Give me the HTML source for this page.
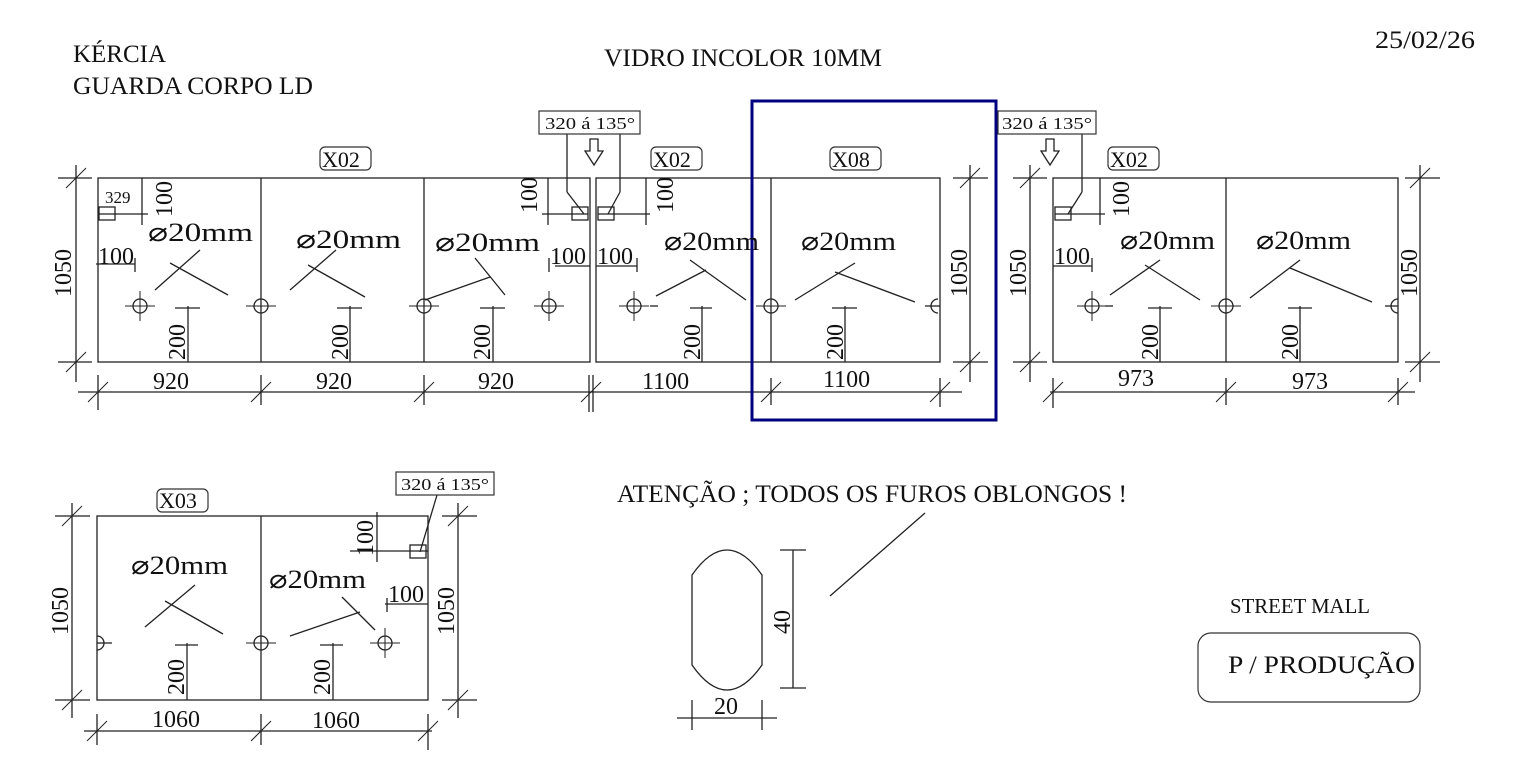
<!DOCTYPE html>
<html><head><meta charset="utf-8"><style>
html,body{margin:0;padding:0;background:#fff;}
svg{display:block;}
text{font-family:"Liberation Serif",serif;fill:#111;}
</style></head><body>
<svg width="1535" height="767" viewBox="0 0 1535 767" xmlns="http://www.w3.org/2000/svg">
<defs>
<g id="h"><circle cx="0" cy="0" r="7" fill="none" stroke="#222" stroke-width="1.3"/><line x1="-15" y1="0" x2="15" y2="0" stroke="#222"/><line x1="0" y1="-15" x2="0" y2="15" stroke="#222"/></g>
<g id="t"><line x1="-10" y1="10" x2="10" y2="-10" stroke="#222"/></g>
</defs>
<g font-size="25">
<text x="73" y="62" textLength="93" lengthAdjust="spacingAndGlyphs">KÉRCIA</text>
<text x="73" y="94" textLength="240" lengthAdjust="spacingAndGlyphs">GUARDA CORPO LD</text>
<text x="604" y="66" textLength="278" lengthAdjust="spacingAndGlyphs">VIDRO INCOLOR 10MM</text>
<text x="1375" y="48" textLength="100" lengthAdjust="spacingAndGlyphs">25/02/26</text>
<text x="617" y="502" textLength="510" lengthAdjust="spacingAndGlyphs">ATENÇÃO ; TODOS OS FUROS OBLONGOS !</text>
<text x="1230" y="613" font-size="21" textLength="140" lengthAdjust="spacingAndGlyphs">STREET MALL</text>
<text x="1228" y="673" textLength="187" lengthAdjust="spacingAndGlyphs">P / PRODUÇÃO</text>
</g>
<rect x="1198" y="633" width="222" height="69" rx="13" fill="none" stroke="#333" stroke-width="1.2"/>

<g stroke="#222" stroke-width="1.3" fill="none">
<rect x="98" y="178" width="492" height="184"/>
<line x1="261" y1="178" x2="261" y2="362"/><line x1="424" y1="178" x2="424" y2="362"/>
<rect x="596" y="178" width="344" height="184"/>
<line x1="771" y1="178" x2="771" y2="362"/>
<line x1="76" y1="165" x2="76" y2="382"/><line x1="58" y1="178" x2="92" y2="178"/><line x1="58" y1="362" x2="92" y2="362"/>
<line x1="970" y1="165" x2="970" y2="382"/><line x1="953" y1="178" x2="988" y2="178"/><line x1="953" y1="362" x2="988" y2="362"/>
<line x1="78" y1="392" x2="962" y2="392"/>
<line x1="98" y1="375" x2="98" y2="410"/><line x1="261" y1="375" x2="261" y2="405"/><line x1="424" y1="375" x2="424" y2="405"/><line x1="589" y1="375" x2="589" y2="412"/><line x1="593" y1="375" x2="593" y2="412"/><line x1="771" y1="378" x2="771" y2="405"/><line x1="940" y1="378" x2="940" y2="407"/>
<rect x="99" y="207" width="16" height="13"/><line x1="99" y1="214" x2="148" y2="214"/><line x1="142" y1="178" x2="142" y2="225"/>
<line x1="96" y1="264" x2="135" y2="264"/><line x1="135" y1="258" x2="135" y2="272"/>
<rect x="572" y="207" width="16" height="13"/><line x1="542" y1="214" x2="588" y2="214"/><line x1="548" y1="178" x2="548" y2="225"/>
<line x1="567" y1="134" x2="567" y2="192"/><line x1="567" y1="192" x2="584" y2="214"/>
<rect x="598" y="207" width="16" height="13"/><line x1="598" y1="214" x2="650" y2="214"/><line x1="646" y1="178" x2="646" y2="225"/>
<line x1="620" y1="134" x2="620" y2="192"/><line x1="620" y1="192" x2="608" y2="214"/>
<line x1="555" y1="266" x2="590" y2="266"/><line x1="549" y1="258" x2="549" y2="272"/>
<line x1="596" y1="266" x2="637" y2="266"/><line x1="637" y1="258" x2="637" y2="272"/>
<line x1="188" y1="306" x2="188" y2="362"/><line x1="175" y1="308" x2="200" y2="308"/>
<line x1="350" y1="306" x2="350" y2="362"/><line x1="337" y1="308" x2="362" y2="308"/>
<line x1="493" y1="306" x2="493" y2="362"/><line x1="480" y1="308" x2="505" y2="308"/>
<line x1="702" y1="306" x2="702" y2="362"/><line x1="690" y1="308" x2="712" y2="308"/>
<line x1="845" y1="306" x2="845" y2="362"/><line x1="832" y1="308" x2="857" y2="308"/>
<line x1="200" y1="250" x2="155" y2="290"/><line x1="170" y1="263" x2="228" y2="295"/>
<line x1="336" y1="250" x2="290" y2="290"/><line x1="308" y1="265" x2="365" y2="297"/>
<line x1="475" y1="258" x2="505" y2="295"/><line x1="425" y1="300" x2="490" y2="277"/>
<line x1="706" y1="270" x2="656" y2="296"/><line x1="690" y1="260" x2="746" y2="300"/>
<line x1="855" y1="263" x2="795" y2="300"/><line x1="835" y1="272" x2="915" y2="302"/>
<path d="M590 139 h8 v12 h5 l-9 14 l-9 -14 h5 z"/>
<path d="M1046 139 h8 v12 h5 l-9 14 l-9 -14 h5 z"/>
<rect x="1053" y="178" width="345" height="184"/>
<line x1="1226" y1="178" x2="1226" y2="362"/>
<line x1="1030" y1="165" x2="1030" y2="382"/><line x1="1013" y1="178" x2="1047" y2="178"/><line x1="1013" y1="362" x2="1047" y2="362"/>
<line x1="1420" y1="165" x2="1420" y2="382"/><line x1="1405" y1="178" x2="1440" y2="178"/><line x1="1405" y1="362" x2="1440" y2="362"/>
<line x1="1050" y1="392" x2="1415" y2="392"/><line x1="1053" y1="378" x2="1053" y2="408"/><line x1="1226" y1="378" x2="1226" y2="405"/><line x1="1398" y1="378" x2="1398" y2="405"/>
<rect x="1055" y="207" width="16" height="13"/><line x1="1055" y1="214" x2="1105" y2="214"/><line x1="1100" y1="178" x2="1100" y2="225"/>
<line x1="1082" y1="134" x2="1082" y2="192"/><line x1="1082" y1="192" x2="1068" y2="214"/>
<line x1="1053" y1="266" x2="1092" y2="266"/><line x1="1092" y1="258" x2="1092" y2="272"/>
<line x1="1160" y1="306" x2="1160" y2="362"/><line x1="1148" y1="308" x2="1172" y2="308"/>
<line x1="1300" y1="306" x2="1300" y2="362"/><line x1="1288" y1="308" x2="1312" y2="308"/>
<line x1="1160" y1="260" x2="1110" y2="295"/><line x1="1145" y1="265" x2="1200" y2="300"/>
<line x1="1300" y1="260" x2="1250" y2="298"/><line x1="1290" y1="268" x2="1372" y2="302"/>
<rect x="97" y="516" width="331" height="184"/>
<line x1="261" y1="516" x2="261" y2="700"/>
<line x1="72" y1="503" x2="72" y2="718"/><line x1="55" y1="516" x2="90" y2="516"/><line x1="55" y1="700" x2="90" y2="700"/>
<line x1="458" y1="503" x2="458" y2="718"/><line x1="442" y1="516" x2="477" y2="516"/><line x1="442" y1="700" x2="477" y2="700"/>
<line x1="84" y1="731" x2="432" y2="731"/><line x1="97" y1="714" x2="97" y2="745"/><line x1="261" y1="714" x2="261" y2="745"/><line x1="428" y1="714" x2="428" y2="750"/>
<rect x="410" y="545" width="16" height="13"/><line x1="350" y1="551" x2="428" y2="551"/><line x1="377" y1="512" x2="377" y2="562"/>
<line x1="437" y1="495" x2="420" y2="552"/>
<line x1="385" y1="604" x2="428" y2="604"/><line x1="387" y1="598" x2="387" y2="612"/>
<line x1="187" y1="643" x2="187" y2="700"/><line x1="175" y1="645" x2="198" y2="645"/>
<line x1="333" y1="643" x2="333" y2="700"/><line x1="320" y1="645" x2="343" y2="645"/>
<line x1="195" y1="585" x2="145" y2="627"/><line x1="165" y1="601" x2="223" y2="634"/>
<line x1="342" y1="597" x2="375" y2="630"/><line x1="290" y1="636" x2="360" y2="612"/>
<path d="M938 299 a7 7 0 0 0 0 14"/><line x1="925" y1="306" x2="940" y2="306"/>
<path d="M1398 299 a7 7 0 0 0 0 14"/><line x1="1385" y1="306" x2="1398" y2="306"/>
<path d="M97 636 a7 7 0 0 1 0 14"/><line x1="97" y1="643" x2="112" y2="643"/>
<line x1="650" y1="306" x2="658" y2="306"/><line x1="1105" y1="306" x2="1113" y2="306"/>
<path d="M692 575 Q727 525 762 575 L762 665 Q727 715 692 665 Z"/>
<line x1="793" y1="550" x2="793" y2="688"/><line x1="780" y1="550" x2="806" y2="550"/><line x1="780" y1="688" x2="806" y2="688"/>
<line x1="677" y1="718" x2="777" y2="718"/><line x1="692" y1="700" x2="692" y2="730"/><line x1="762" y1="700" x2="762" y2="730"/>
<line x1="830" y1="596" x2="925" y2="513"/>
</g>
<g>
<use href="#h" x="140" y="306"/><use href="#h" x="261" y="306"/><use href="#h" x="424" y="306"/><use href="#h" x="549" y="306"/>
<use href="#h" x="634" y="306"/><use href="#h" x="771" y="306"/>
<use href="#h" x="1092" y="306"/><use href="#h" x="1226" y="306"/>
<use href="#h" x="261" y="643"/><use href="#h" x="385" y="643"/>
<use href="#t" x="76" y="178"/><use href="#t" x="76" y="362"/><use href="#t" x="970" y="178"/><use href="#t" x="970" y="362"/>
<use href="#t" x="98" y="392"/><use href="#t" x="261" y="392"/><use href="#t" x="424" y="392"/><use href="#t" x="591" y="392"/><use href="#t" x="771" y="392"/><use href="#t" x="940" y="392"/>
<use href="#t" x="1030" y="178"/><use href="#t" x="1030" y="362"/><use href="#t" x="1420" y="178"/><use href="#t" x="1420" y="362"/>
<use href="#t" x="1053" y="392"/><use href="#t" x="1226" y="392"/><use href="#t" x="1398" y="392"/>
<use href="#t" x="72" y="516"/><use href="#t" x="72" y="700"/><use href="#t" x="458" y="516"/><use href="#t" x="458" y="700"/>
<use href="#t" x="97" y="731"/><use href="#t" x="261" y="731"/><use href="#t" x="428" y="731"/>
</g>
<rect x="752" y="101" width="244" height="319" fill="none" stroke="#000080" stroke-width="3"/>
<g fill="none" stroke="#333" stroke-width="1.2">
<rect x="320" y="147" width="51" height="23" rx="5"/><rect x="651" y="147" width="51" height="23" rx="5"/><rect x="830" y="147" width="51" height="23" rx="5"/><rect x="1108" y="147" width="51" height="23" rx="5"/><rect x="157" y="489" width="51" height="23" rx="5"/>
<rect x="539" y="111" width="101" height="23"/><rect x="998" y="111" width="98" height="23"/><rect x="396" y="472" width="98" height="23"/>
</g>
<g font-size="22">
<text x="322" y="167">X02</text><text x="653" y="167">X02</text><text x="832" y="167">X08</text><text x="1110" y="167">X02</text><text x="159" y="508">X03</text>
</g>
<g font-size="17">
<text x="545" y="129" textLength="90" lengthAdjust="spacingAndGlyphs">320 á 135°</text><text x="1002" y="129" textLength="90" lengthAdjust="spacingAndGlyphs">320 á 135°</text><text x="401" y="490" textLength="88" lengthAdjust="spacingAndGlyphs">320 á 135°</text>
<text x="105" y="203">329</text>
</g>
<g font-size="26">
<text x="148" y="241" textLength="105" lengthAdjust="spacingAndGlyphs">⌀20mm</text><text x="296" y="248" textLength="105" lengthAdjust="spacingAndGlyphs">⌀20mm</text><text x="435" y="251" textLength="105" lengthAdjust="spacingAndGlyphs">⌀20mm</text><text x="664" y="250" textLength="95" lengthAdjust="spacingAndGlyphs">⌀20mm</text><text x="801" y="250" textLength="95" lengthAdjust="spacingAndGlyphs">⌀20mm</text>
<text x="1120" y="249" textLength="95" lengthAdjust="spacingAndGlyphs">⌀20mm</text><text x="1256" y="249" textLength="95" lengthAdjust="spacingAndGlyphs">⌀20mm</text>
<text x="131" y="574" textLength="97" lengthAdjust="spacingAndGlyphs">⌀20mm</text><text x="269" y="588" textLength="97" lengthAdjust="spacingAndGlyphs">⌀20mm</text>
</g>
<g font-size="24">
<text x="98" y="264">100</text><text x="550" y="264">100</text><text x="597" y="264">100</text><text x="1054" y="264">100</text><text x="388" y="602">100</text>
<text x="153" y="389">920</text><text x="316" y="389">920</text><text x="478" y="389">920</text>
<text x="642" y="389">1100</text><text x="823" y="387">1100</text>
<text x="1118" y="386">973</text><text x="1292" y="389">973</text>
<text x="152" y="727">1060</text><text x="312" y="728">1060</text>
<text x="714" y="714">20</text>
<g transform="rotate(-90)">
<text x="-297" y="71">1050</text><text x="-297" y="967">1050</text><text x="-297" y="1026">1050</text><text x="-297" y="1417">1050</text>
<text x="-635" y="68">1050</text><text x="-635" y="454">1050</text>
<text x="-217" y="172">100</text><text x="-213" y="537">100</text><text x="-213" y="673">100</text><text x="-217" y="1129">100</text><text x="-556" y="373">100</text>
<text x="-360" y="185">200</text><text x="-360" y="348">200</text><text x="-360" y="490">200</text><text x="-360" y="700">200</text><text x="-360" y="843">200</text><text x="-360" y="1158">200</text><text x="-360" y="1298">200</text>
<text x="-695" y="184">200</text><text x="-695" y="330">200</text>
<text x="-634" y="790">40</text>
</g>
</g>
</svg>
</body></html>
